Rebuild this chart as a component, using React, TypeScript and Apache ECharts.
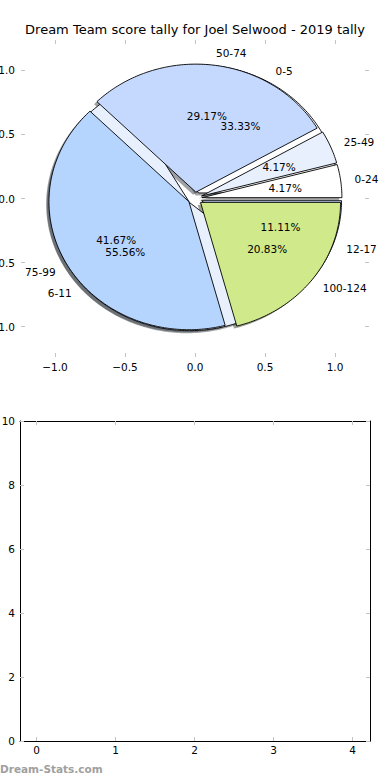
import React, { useEffect, useRef } from 'react';
import * as echarts from 'echarts';

const chartTitle = 'Dream Team score tally for Joel Selwood - 2019 tally';
const scoreRanges = ['0-24', '25-49', '50-74', '75-99', '100-124'];
const scoreGames = [1, 1, 7, 10, 5];
const tallyRanges = ['0-5', '6-11', '12-17'];
const tallyGames = [3, 5, 1];
const pieTicks = [-1, -0.5, 0, 0.5, 1];
const barXTicks = [0, 1, 2, 3, 4];
const watermark = 'Dream-Stats.com';

const sliceColors = ['#ffffff', '#e8f0fe', '#c5d9fe', '#b5d5fe', '#d0e98a'];
const EXPLODE = 0.05;
const SHADOW_DX = -0.02;
const SHADOW_DY = -0.02;
const FONT = '"DejaVu Sans", Verdana, sans-serif';
const TICK_COLOR = '#c4c4c4';

type Wedge = { label: string; frac: number; t1: number; t2: number; color: string };

function buildWedges(labels: string[], values: number[]): Wedge[] {
  const total = values.reduce((a, b) => a + b, 0);
  let acc = 0;
  return values.map((v, i) => {
    const t1 = (acc / total) * 360;
    acc += v;
    const t2 = (acc / total) * 360;
    return { label: labels[i], frac: v / total, t1, t2, color: sliceColors[i % sliceColors.length] };
  });
}

// tally pie drawn first, score pie on top
const wedges: Wedge[] = [...buildWedges(tallyRanges, tallyGames), ...buildWedges(scoreRanges, scoreGames)];

function shade(hex: string): string {
  const r = parseInt(hex.slice(1, 3), 16), g = parseInt(hex.slice(3, 5), 16), b = parseInt(hex.slice(5, 7), 16);
  return `rgba(${Math.round(r * 0.3)},${Math.round(g * 0.3)},${Math.round(b * 0.3)},0.5)`;
}

function wedgePoints(api: any, w: Wedge, dx: number, dy: number) {
  const mid = (((w.t1 + w.t2) / 2) * Math.PI) / 180;
  const ox = EXPLODE * Math.cos(mid) + dx;
  const oy = EXPLODE * Math.sin(mid) + dy;
  const pts: number[][] = [api.coord([ox, oy])];
  const n = Math.max(2, Math.ceil(w.t2 - w.t1));
  for (let j = 0; j <= n; j++) {
    const a = ((w.t1 + ((w.t2 - w.t1) * j) / n) * Math.PI) / 180;
    pts.push(api.coord([ox + Math.cos(a), oy + Math.sin(a)]));
  }
  return pts;
}

function fmtTick(v: number) {
  return (v < 0 ? '\u2212' : '') + Math.abs(v).toFixed(1);
}

export default function App() {
  const ref = useRef<HTMLDivElement>(null);
  useEffect(() => {
    document.body.style.margin = '0';
    if (!ref.current) return;
    const chart = echarts.init(ref.current, undefined, { renderer: 'svg' });
    const labelStyle = { color: '#000', fontFamily: FONT, fontSize: 10.5 };
    const tick = { show: true, inside: true, length: 4, lineStyle: { color: TICK_COLOR, width: 1 } };
    const pieAxisCommon = {
      type: 'value',
      gridIndex: 0,
      axisLine: { show: false, onZero: false },
      splitLine: { show: false },
    };
    const dataIdx = wedges.map((_, k) => [k, 0]);
    const option: any = {
      animation: false,
      title: {
        text: chartTitle,
        left: 'center',
        top: 23,
        padding: 0,
        textStyle: { fontFamily: FONT, fontSize: 13, fontWeight: 'normal', color: '#000' },
      },
      graphic: [
        {
          type: 'text',
          left: 0,
          top: 763,
          style: { text: watermark, font: `bold 10.5px ${FONT}`, fill: '#a0a0a0' },
        },
      ],
      grid: [
        { left: 21, right: 21, top: 40, height: 317, containLabel: false, outerBoundsMode: 'none' },
        { left: 20, right: 20, top: 421, height: 320, containLabel: false, outerBoundsMode: 'none' },
      ],
      xAxis: [
        {
          ...pieAxisCommon,
          position: 'bottom',
          min: -1.243,
          max: 1.243,
          axisTick: { ...tick, customValues: pieTicks },
          axisLabel: { ...labelStyle, margin: 4, customValues: pieTicks, formatter: fmtTick },
        },
        {
          ...pieAxisCommon,
          position: 'top',
          min: -1.243,
          max: 1.243,
          axisTick: { ...tick, customValues: pieTicks },
          axisLabel: { show: false },
        },
        {
          type: 'value',
          gridIndex: 1,
          position: 'bottom',
          min: -0.21,
          max: 4.22,
          axisLine: { show: true, onZero: false, lineStyle: { color: '#000', width: 1 } },
          splitLine: { show: false },
          axisTick: { ...tick, customValues: barXTicks },
          axisLabel: { ...labelStyle, margin: 3, customValues: barXTicks, formatter: (v: number) => String(v) },
        },
        {
          type: 'value',
          gridIndex: 1,
          position: 'top',
          min: -0.21,
          max: 4.22,
          axisLine: { show: true, onZero: false, lineStyle: { color: '#000', width: 1 } },
          splitLine: { show: false },
          axisTick: { ...tick, customValues: barXTicks },
          axisLabel: { show: false },
        },
      ],
      yAxis: [
        {
          ...pieAxisCommon,
          position: 'left',
          min: -1.238,
          max: 1.238,
          axisTick: { ...tick, customValues: pieTicks },
          axisLabel: { ...labelStyle, margin: 6, customValues: pieTicks, formatter: fmtTick },
        },
        {
          ...pieAxisCommon,
          position: 'right',
          min: -1.238,
          max: 1.238,
          axisTick: { ...tick, customValues: pieTicks },
          axisLabel: { show: false },
        },
        {
          type: 'value',
          gridIndex: 1,
          position: 'left',
          min: 0,
          max: 10,
          interval: 2,
          axisLine: { show: true, onZero: false, lineStyle: { color: '#000', width: 1 } },
          splitLine: { show: false },
          axisTick: tick,
          axisLabel: { ...labelStyle, margin: 5 },
        },
        {
          type: 'value',
          gridIndex: 1,
          position: 'right',
          min: 0,
          max: 10,
          interval: 2,
          axisLine: { show: true, onZero: false, lineStyle: { color: '#000', width: 1 } },
          splitLine: { show: false },
          axisTick: tick,
          axisLabel: { show: false },
        },
      ],
      series: [
        {
          type: 'custom',
          name: 'shadows',
          xAxisIndex: 0,
          yAxisIndex: 0,
          clip: false,
          silent: true,
          data: dataIdx,
          renderItem: (params: any, api: any) => {
            const w = wedges[params.dataIndex];
            return {
              type: 'polygon',
              shape: { points: wedgePoints(api, w, SHADOW_DX, SHADOW_DY) },
              style: { fill: shade(w.color), stroke: 'none' },
            };
          },
        },
        {
          type: 'custom',
          name: 'wedges',
          xAxisIndex: 0,
          yAxisIndex: 0,
          clip: false,
          silent: true,
          data: dataIdx,
          renderItem: (params: any, api: any) => {
            const w = wedges[params.dataIndex];
            return {
              type: 'polygon',
              shape: { points: wedgePoints(api, w, 0, 0) },
              style: { fill: w.color, stroke: '#000', lineWidth: 0.9, lineJoin: 'miter' },
            };
          },
        },
        {
          type: 'custom',
          name: 'labels',
          xAxisIndex: 0,
          yAxisIndex: 0,
          clip: false,
          silent: true,
          data: dataIdx,
          renderItem: (params: any, api: any) => {
            const w = wedges[params.dataIndex];
            const mid = (((w.t1 + w.t2) / 2) * Math.PI) / 180;
            const ox = EXPLODE * Math.cos(mid);
            const oy = EXPLODE * Math.sin(mid);
            const lx = ox + 1.1 * Math.cos(mid);
            const ly = oy + 1.1 * Math.sin(mid);
            const px = ox + 0.6 * Math.cos(mid);
            const py = oy + 0.6 * Math.sin(mid);
            const lp = api.coord([lx, ly]);
            const pp = api.coord([px, py]);
            const align = lx > 0 ? 'left' : 'right';
            return {
              type: 'group',
              children: [
                {
                  type: 'text',
                  x: lp[0],
                  y: lp[1],
                  style: {
                    text: w.label,
                    font: `10.5px ${FONT}`,
                    fill: '#000',
                    align,
                    verticalAlign: 'middle',
                    textAlign: align,
                    textVerticalAlign: 'middle',
                  },
                },
                {
                  type: 'text',
                  x: pp[0],
                  y: pp[1],
                  style: {
                    text: (w.frac * 100).toFixed(2) + '%',
                    font: `10.5px ${FONT}`,
                    fill: '#000',
                    align: 'center',
                    verticalAlign: 'middle',
                    textAlign: 'center',
                    textVerticalAlign: 'middle',
                  },
                },
              ],
            };
          },
        },
        {
          type: 'line',
          xAxisIndex: 2,
          yAxisIndex: 2,
          data: [],
        },
      ],
    };
    chart.setOption(option);
    return () => chart.dispose();
  }, []);
  return <div ref={ref} style={{ width: 390, height: 780 }} />;
}
